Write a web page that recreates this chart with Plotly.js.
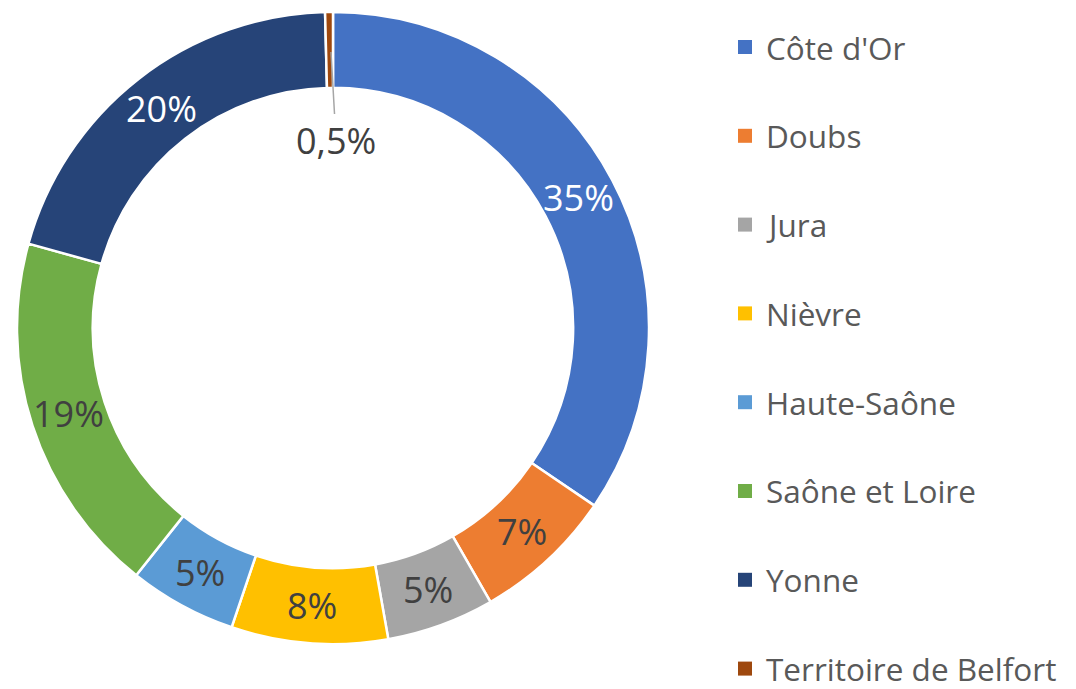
<!DOCTYPE html>
<html>
<head>
<meta charset="utf-8">
<script src="https://cdn.plot.ly/plotly-3.0.1.min.js"></script>
<style>html,body{margin:0;padding:0;background:#fff;}#chart{width:1076px;height:689px;}</style>
</head>
<body>
<div id="chart"></div>
<script>
// Data
const categories = ["Côte d'Or", "Doubs", "Jura", "Nièvre", "Haute-Saône", "Saône et Loire", "Yonne", "Territoire de Belfort"];
const shares = [34.5, 7.2, 5.5, 8.0, 5.5, 18.6, 20.3, 0.4];
const pctLabels = ["35%", "7%", "5%", "8%", "5%", "19%", "20%", "0,5%"];
const colors = ["#4472C4", "#ED7D31", "#A5A5A5", "#FFC000", "#5B9BD5", "#70AD47", "#264478", "#9E480E"];
const textColors = ["#FFFFFF", "#404040", "#404040", "#404040", "#404040", "#404040", "#FFFFFF", "#404040"];

const W = 1076, H = 689;
const FONT = "Open Sans, Noto Sans, sans-serif";

// Pie geometry (domain in paper fractions)
const domX = [17 / W, 649 / W], domY = [45 / H, 677 / H];
const HOLE = 0.76;

const trace = {
  type: "pie",
  labels: categories,
  values: shares,
  textinfo: "none",
  hole: HOLE,
  sort: false,
  direction: "clockwise",
  rotation: 0,
  marker: { colors: colors, line: { color: "#FFFFFF", width: 2.5 } },
  domain: { x: domX, y: domY },
  showlegend: false,
  hoverinfo: "label+percent"
};

const shapes = [];
const annotations = [];

// Slice labels placed at the middle of each ring segment (angles derived from the shares)
const total = shares.reduce((a, b) => a + b, 0);
const cxPx = (domX[0] + domX[1]) / 2 * W;
const cyPx = (domY[0] + domY[1]) / 2 * H;
const rOut = Math.min((domX[1] - domX[0]) * W, (domY[1] - domY[0]) * H) / 2;
const rMid = rOut * (1 + HOLE) / 2;
let cum = 0;
shares.forEach((v, i) => {
  const theta = (cum + v / 2) / total * 2 * Math.PI;
  cum += v;
  if (i === shares.length - 1) return;
  annotations.push({
    xref: "paper", yref: "paper",
    x: (cxPx + rMid * Math.sin(theta)) / W,
    y: (cyPx + rMid * Math.cos(theta)) / H,
    xanchor: "center", yanchor: "middle", showarrow: false,
    text: pctLabels[i], font: { family: FONT, size: 36, color: textColors[i] }
  });
});

// Label for the tiny slice, placed in the hole with a leader line
annotations.push({
  xref: "paper", yref: "paper", x: 331 / W, y: (H - 52) / H,
  ax: 5, ay: 88, showarrow: true, arrowhead: 0, arrowwidth: 1.5, arrowcolor: "#A6A6A6",
  text: pctLabels[7], font: { family: FONT, size: 36, color: "#404040" }
});

// Legend built from the categories and colors
const legTop = 47, legStep = 88.8;
categories.forEach((c, i) => {
  const yc = legTop + i * legStep;
  shapes.push({
    type: "rect", xref: "paper", yref: "paper",
    x0: 738 / W, x1: 752 / W, y0: (H - yc - 7) / H, y1: (H - yc + 7) / H,
    fillcolor: colors[i], line: { width: 0 }
  });
  annotations.push({
    xref: "paper", yref: "paper", x: 764 / W, y: (H - yc) / H,
    xanchor: "left", yanchor: "middle", showarrow: false,
    text: c, font: { family: FONT, size: 31.5, color: "#595959" }
  });
});

const layout = {
  width: W, height: H,
  margin: { l: 0, r: 0, t: 0, b: 0 },
  paper_bgcolor: "#FFFFFF",
  plot_bgcolor: "#FFFFFF",
  showlegend: false,
  shapes: shapes,
  annotations: annotations
};

Plotly.newPlot("chart", [trace], layout, { displayModeBar: false, staticPlot: true });
</script>
</body>
</html>
